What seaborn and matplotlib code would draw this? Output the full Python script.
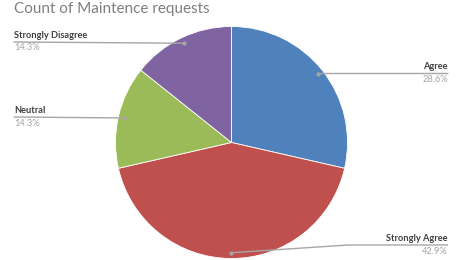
import matplotlib
matplotlib.use("Agg")
import matplotlib.pyplot as plt
import seaborn as sns
import numpy as np

categories = ["Agree", "Strongly Agree", "Neutral", "Strongly Disagree"]
counts = [2, 3, 1, 1]
colors = ["#4F81BD", "#C0504D", "#9BBB59", "#8064A2"]
title = "Count of Maintence requests"

sns.set_theme(style="white")
plt.rcParams["font.family"] = ["Lato", "DejaVu Sans"]

W, H = 463, 260
fig = plt.figure(figsize=(W / 100, H / 100), dpi=100)
ax = fig.add_axes([0, 0, 1, 1])
cx, cy, R = 231.5, H - 142.5, 116
wedges, _ = ax.pie(counts, colors=colors, startangle=90, counterclock=False,
                   center=(cx, cy), radius=R,
                   wedgeprops=dict(linewidth=0.6, edgecolor="white"))
ax.set_xlim(0, W)
ax.set_ylim(0, H)
ax.set_aspect("equal")
ax.axis("off")

total = sum(counts)
layout = {
    "Agree": (448, 73, "right"),
    "Strongly Agree": (448, 245, "right"),
    "Neutral": (14, 117, "left"),
    "Strongly Disagree": (14, 42, "left"),
}
line_c = "#A6A6A6"
for w, cat, n in zip(wedges, categories, counts):
    ang = np.deg2rad((w.theta1 + w.theta2) / 2)
    px = cx + 0.95 * R * np.cos(ang)
    py = cy + 0.95 * R * np.sin(ang)
    lx, ly_top, side = layout[cat]
    ly = H - ly_top
    if side == "right":
        elbow = max(px, 348) if abs(ly - py) > 2 else px
        ax.plot([px, elbow, lx], [py, ly, ly], color=line_c, lw=1, solid_capstyle="butt")
        ha = "right"
    else:
        ax.plot([lx, px], [ly, py], color=line_c, lw=1)
        ha = "left"
    ax.plot([px], [py], "o", color=line_c, ms=2)
    ax.text(lx, ly + 2, cat, ha=ha, va="bottom", fontsize=6.7, fontweight="bold",
            color="#404040")
    ax.text(lx, ly - 1.5, f"{100 * n / total:.1f}%", ha=ha, va="top", fontsize=6.7,
            color="#A6A6A6")

fig.text(14 / W, 1 - 2 / H, title, ha="left", va="top", fontsize=11, color="#7F7F7F")

fig.savefig("out.png", dpi=100)
